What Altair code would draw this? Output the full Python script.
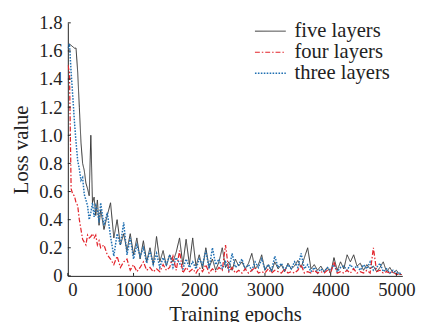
import altair as alt
import pandas as pd

series_names = ["five layers", "four layers", "three layers"]

epochs = list(range(0, 501, 25)) + list(range(550, 5051, 50)) + [5080]

five_layers = [
    1.62, 1.65, 1.64, 1.63, 1.62, 1.62, 1.45, 1.20, 0.95, 0.80,
    0.75, 0.66, 0.62, 0.57, 1.00, 0.52, 0.56, 0.43, 0.54, 0.36, 0.47,
    0.33, 0.43, 0.52, 0.27, 0.40, 0.22, 0.30, 0.18, 0.30, 0.15,
    0.27, 0.12, 0.25, 0.10, 0.20, 0.08, 0.28, 0.10, 0.18, 0.07,
    0.15, 0.10, 0.17, 0.27, 0.08, 0.26, 0.08, 0.27, 0.07, 0.15,
    0.05, 0.20, 0.06, 0.12, 0.04, 0.10, 0.20, 0.06, 0.10, 0.04,
    0.12, 0.07, 0.10, 0.05, 0.09, 0.16, 0.05, 0.08, 0.15, 0.04,
    0.08, 0.03, 0.10, 0.05, 0.08, 0.03, 0.09, 0.05, 0.07, 0.11,
    0.06, 0.13, 0.20, 0.05, 0.08, 0.04, 0.07, 0.03, 0.06, 0.02,
    0.13, 0.04, 0.10, 0.05, 0.15, 0.10, 0.15, 0.07, 0.09, 0.04,
    0.08, 0.05, 0.07, 0.03, 0.06, 0.10, 0.03, 0.06, 0.02, 0.04,
    0.01, 0.01,
]

four_layers = [
    1.50, 1.45, 0.62, 0.58, 0.57, 0.52, 0.50, 0.40, 0.33, 0.26,
    0.24, 0.22, 0.29, 0.27, 0.28, 0.30, 0.27, 0.29, 0.22, 0.25, 0.20,
    0.22, 0.15, 0.12, 0.08, 0.14, 0.06, 0.10, 0.12, 0.04, 0.08,
    0.03, 0.06, 0.10, 0.04, 0.06, 0.03, 0.05, 0.03, 0.08, 0.04,
    0.06, 0.14, 0.04, 0.18, 0.02, 0.06, 0.03, 0.05, 0.02, 0.06,
    0.03, 0.08, 0.02, 0.05, 0.03, 0.06, 0.04, 0.22, 0.03, 0.06,
    0.02, 0.04, 0.02, 0.05, 0.02, 0.04, 0.06, 0.02, 0.03, 0.02,
    0.05, 0.02, 0.04, 0.03, 0.02, 0.05, 0.02, 0.03, 0.02, 0.04,
    0.08, 0.02, 0.03, 0.02, 0.04, 0.02, 0.03, 0.02, 0.04, 0.02,
    0.10, 0.02, 0.03, 0.02, 0.04, 0.02, 0.05, 0.02, 0.03, 0.02,
    0.04, 0.02, 0.20, 0.03, 0.04, 0.02, 0.03, 0.02, 0.03, 0.01,
    0.01, 0.01,
]

three_layers = [
    1.62, 1.65, 1.45, 1.28, 1.10, 0.95, 0.82, 0.76, 0.68, 0.70,
    0.58, 0.54, 0.50, 0.40, 0.45, 0.52, 0.42, 0.50, 0.47, 0.38, 0.52,
    0.36, 0.45, 0.28, 0.14, 0.30, 0.22, 0.38, 0.15, 0.27, 0.12,
    0.22, 0.14, 0.20, 0.09, 0.18, 0.08, 0.16, 0.06, 0.13, 0.08,
    0.15, 0.06, 0.13, 0.09, 0.05, 0.12, 0.06, 0.10, 0.05, 0.12,
    0.08, 0.18, 0.05, 0.20, 0.08, 0.12, 0.05, 0.10, 0.04, 0.16,
    0.06, 0.08, 0.12, 0.05, 0.08, 0.04, 0.10, 0.06, 0.12, 0.05,
    0.08, 0.04, 0.14, 0.06, 0.09, 0.04, 0.08, 0.05, 0.10, 0.06,
    0.16, 0.05, 0.08, 0.03, 0.06, 0.02, 0.05, 0.03, 0.06, 0.04,
    0.08, 0.03, 0.06, 0.07, 0.04, 0.08, 0.05, 0.07, 0.04, 0.08,
    0.05, 0.10, 0.04, 0.06, 0.09, 0.03, 0.05, 0.02, 0.04, 0.02,
    0.02, 0.01,
]

y_ticks = [0, 0.2, 0.4, 0.6, 0.8, 1.0, 1.2, 1.4, 1.6, 1.8]
x_ticks = [0, 1000, 2000, 3000, 4000, 5000]

colors = ["#333333", "#e3242b", "#1f6fb2"]
dashes = [[1, 0], [5, 2, 1.5, 2], [1.6, 1.4]]
widths = [1.0, 1.5, 2.2]

rows = []
for name, vals in zip(series_names, [five_layers, four_layers, three_layers]):
    for e, v in zip(epochs, vals):
        rows.append({"series": name, "epoch": e, "loss": v})
df = pd.DataFrame(rows)

ytick_df = pd.DataFrame({"loss": y_ticks})
xtick_df = pd.DataFrame({"epoch": x_ticks})

FONT = "Liberation Serif"
AXIS_COLOR = "#222222"

x_scale = alt.Scale(domain=[0, 5090], nice=False)
y_scale = alt.Scale(domain=[0, 1.8], nice=False)

x_axis = alt.Axis(
    values=x_ticks, title="Training epochs", ticks=False, tickSize=0,
    labelPadding=5, titlePadding=4, grid=False, labelOverlap=False,
    labelExpr="format(datum.value, 'd')",
)
y_axis = alt.Axis(
    values=y_ticks, title="Loss value", ticks=False, tickSize=0,
    labelPadding=6, titlePadding=7, grid=False, labelOverlap=False,
    labelExpr="datum.value == 0 ? '0' : format(datum.value, '.1f')",
)

x_enc = alt.X("epoch:Q", scale=x_scale, axis=x_axis)
y_enc = alt.Y("loss:Q", scale=y_scale, axis=y_axis)

legend = alt.Legend(
    orient="none", legendX=196, legendY=-2, title=None,
    symbolType="M-3,0H3", symbolSize=110, labelFont=FONT, labelFontSize=21,
    labelColor="#222222", labelOffset=14, rowPadding=-0.5,
)
color_enc = alt.Color("series:N", scale=alt.Scale(domain=series_names, range=colors), legend=legend)
dash_enc = alt.StrokeDash("series:N", scale=alt.Scale(domain=series_names, range=dashes), legend=legend)
width_enc = alt.StrokeWidth("series:N", scale=alt.Scale(domain=series_names, range=widths), legend=legend)

layers = []
for name in ["five layers", "three layers", "four layers"]:
    layers.append(
        alt.Chart(df)
        .transform_filter(alt.datum.series == name)
        .mark_line(clip=True)
        .encode(x=x_enc, y=y_enc, color=color_enc, strokeDash=dash_enc, strokeWidth=width_enc)
    )

# small inward tick marks, as in the reference
y_tick_marks = alt.Chart(ytick_df).mark_rule(color=AXIS_COLOR, strokeWidth=1).encode(
    y=y_enc, x=alt.value(0), x2=alt.value(3)
)
x_tick_marks = alt.Chart(xtick_df).mark_rule(color=AXIS_COLOR, strokeWidth=1).encode(
    x=x_enc, y=alt.value(258), y2=alt.value(255)
)

chart = (
    alt.layer(*layers, y_tick_marks, x_tick_marks)
    .properties(
        width=341, height=258,
        autosize=alt.AutoSizeParams(type="none"),
        padding={"left": 61, "top": 12, "right": 16, "bottom": 50},
    )
    .configure_view(stroke=None)
    .configure_axis(
        labelFont=FONT, labelFontSize=19, titleFont=FONT, titleFontSize=21,
        titleFontWeight="normal", labelColor=AXIS_COLOR, titleColor=AXIS_COLOR,
        domainColor=AXIS_COLOR, domainWidth=1,
    )
    .configure_legend(labelFont=FONT)
)

chart.save("out.html", embed_options={"renderer": "svg", "actions": False})
